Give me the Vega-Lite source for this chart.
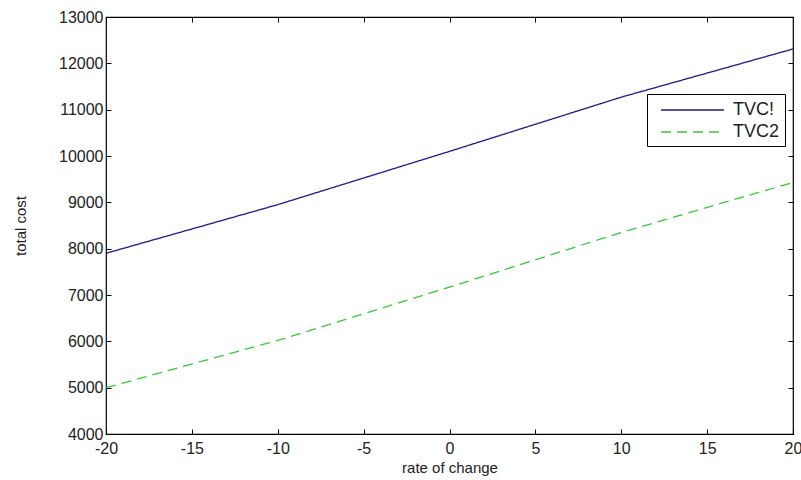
{
  "$schema": "https://vega.github.io/schema/vega-lite/v6.json",
  "width": 687,
  "height": 417,
  "autosize": {"type": "none"},
  "padding": {"left": 106, "top": 17, "right": 8, "bottom": 46},
  "background": "white",
  "config": {
    "font": "Liberation Sans",
    "view": {"stroke": "black", "strokeWidth": 1.2},
    "axis": {
      "domain": false,
      "grid": false,
      "tickColor": "black",
      "tickSize": -5,
      "labelFlush": false,
      "labelOverlap": false,
      "labelColor": "#222",
      "labelFontSize": 16,
      "labelFont": "Liberation Sans",
      "titleFont": "Liberation Sans",
      "titleFontSize": 15,
      "titleFontWeight": "normal",
      "titleColor": "#222"
    },
    "legend": {
      "title": null,
      "orient": "none",
      "legendX": 541,
      "legendY": 77,
      "strokeColor": "black",
      "fillColor": "white",
      "padding": 5,
      "symbolType": "M-0.2,0H6.1",
      "symbolSize": 400,
      "symbolStrokeWidth": 1.5,
      "labelFontSize": 18,
      "labelColor": "#222",
      "labelOffset": 59,
      "rowPadding": 2,
      "labelExpr": "datum.label + '\u2800\u2800'"
    }
  },
  "data": {
    "values": [
      {"rate": -20, "cost": 7900, "series": "TVC!"},
      {"rate": -10, "cost": 8950, "series": "TVC!"},
      {"rate": 0, "cost": 10100, "series": "TVC!"},
      {"rate": 10, "cost": 11270, "series": "TVC!"},
      {"rate": 20, "cost": 12310, "series": "TVC!"},
      {"rate": -20, "cost": 5000, "series": "TVC2"},
      {"rate": -10, "cost": 6020, "series": "TVC2"},
      {"rate": 0, "cost": 7170, "series": "TVC2"},
      {"rate": 10, "cost": 8350, "series": "TVC2"},
      {"rate": 20, "cost": 9430, "series": "TVC2"}
    ]
  },
  "layer": [
    {
      "mark": {"type": "line", "strokeWidth": 1.3},
      "encoding": {
        "x": {
          "field": "rate", "type": "quantitative",
          "scale": {"domain": [-20, 20], "nice": false, "zero": false},
          "axis": {"values": [-20, -15, -10, -5, 0, 5, 10, 15, 20], "labelExpr": "replace(datum.label, '\u2212', '-')", "title": "rate of change", "labelPadding": 11, "titlePadding": 4}
        },
        "y": {
          "field": "cost", "type": "quantitative",
          "scale": {"domain": [4000, 13000], "nice": false, "zero": false},
          "axis": {"values": [4000, 5000, 6000, 7000, 8000, 9000, 10000, 11000, 12000, 13000], "format": "d", "title": "total cost", "labelPadding": 8, "titlePadding": 30}
        },
        "color": {
          "field": "series", "type": "nominal",
          "scale": {"domain": ["TVC!", "TVC2"], "range": ["#1a1a8c", "#33cc33"]}
        },
        "strokeDash": {
          "field": "series", "type": "nominal",
          "scale": {"domain": ["TVC!", "TVC2"], "range": [[1, 0], [10, 6]]}
        }
      }
    },
    {
      "mark": {"type": "line", "opacity": 0},
      "encoding": {
        "x": {
          "field": "rate", "type": "quantitative",
          "scale": {"domain": [-20, 20], "nice": false, "zero": false},
          "axis": {"orient": "top", "values": [-20, -15, -10, -5, 0, 5, 10, 15, 20], "labels": false, "title": null}
        },
        "y": {
          "field": "cost", "type": "quantitative",
          "scale": {"domain": [4000, 13000], "nice": false, "zero": false},
          "axis": {"orient": "right", "values": [4000, 5000, 6000, 7000, 8000, 9000, 10000, 11000, 12000, 13000], "labels": false, "title": null}
        },
        "detail": {"field": "series"}
      }
    }
  ],
  "resolve": {"axis": {"x": "independent", "y": "independent"}}
}
